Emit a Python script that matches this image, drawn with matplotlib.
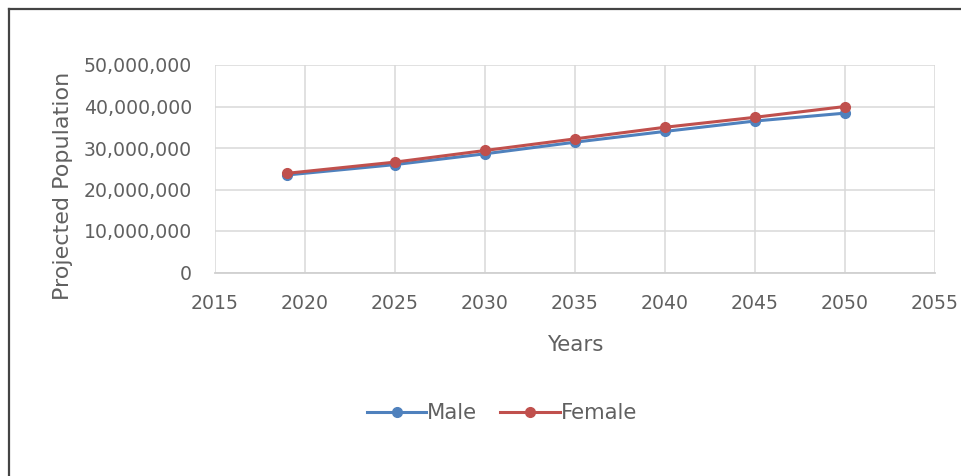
import matplotlib
matplotlib.use("Agg")
import matplotlib.pyplot as plt
from matplotlib.ticker import FuncFormatter
from matplotlib.lines import Line2D

years = [2019, 2025, 2030, 2035, 2040, 2045, 2050]
male = [23.5e6, 26.0e6, 28.6e6, 31.4e6, 34.0e6, 36.5e6, 38.4e6]
female = [23.9e6, 26.6e6, 29.4e6, 32.2e6, 35.0e6, 37.4e6, 40.0e6]
x_ticks = [2015, 2020, 2025, 2030, 2035, 2040, 2045, 2050, 2055]
y_ticks = [0, 10e6, 20e6, 30e6, 40e6, 50e6]

plt.rcParams['font.family'] = ['DejaVu Sans']
txt = '#606060'

W, H = 962, 476
L, R, T, B = 215, 935, 65, 272.5
fig = plt.figure(figsize=(W / 100, H / 100), dpi=100)
ax = fig.add_axes([L / W, 1 - B / H, (R - L) / W, (B - T) / H])

ax.plot(years, male, color='#4F81BD', lw=2.2, marker='o', ms=7, label='Male')
ax.plot(years, female, color='#C0504D', lw=2.2, marker='o', ms=7, label='Female')

ax.set_xlim(2015, 2055)
ax.set_ylim(0, 50e6)
ax.set_xticks(x_ticks)
ax.set_yticks(y_ticks)
ax.yaxis.set_major_formatter(FuncFormatter(lambda v, p: f"{int(v):,}"))
ax.grid(True, color='#d9d9d9', lw=1.1)
ax.set_axisbelow(True)
for s in ['top', 'right', 'left']:
    ax.spines[s].set_visible(False)
ax.spines['bottom'].set_color('#d0d0d0')
ax.spines['bottom'].set_linewidth(1.3)
ax.tick_params(length=0, colors=txt, labelsize=13.6)
ax.tick_params(axis='x', pad=15.5)
ax.tick_params(axis='y', pad=16.5)

ax.set_xlabel('Years', color=txt, fontsize=15.4)
ax.xaxis.set_label_coords(0.5, (B - 345) / (B - T))
ax.xaxis.label.set_verticalalignment('center')

ax.set_ylabel('Projected Population', color=txt, fontsize=16)
ax.yaxis.set_label_coords((63 - L) / (R - L), (B - 186) / (B - T))
ax.yaxis.label.set_verticalalignment('center')
ax.yaxis.label.set_horizontalalignment('center')

leg = fig.legend(loc='center', bbox_to_anchor=(502 / W, 1 - 413 / H), ncol=2, frameon=False,
                 fontsize=15.2, handlelength=2.8, columnspacing=1.1, handletextpad=0.05,
                 borderpad=0, borderaxespad=0)
for t in leg.get_texts():
    t.set_color(txt)

# frame lines (top and left only, as in the reference image)
bx, by = 9 / W, 1 - 9 / H
fig.add_artist(Line2D([bx, 1], [by, by], transform=fig.transFigure, color='#444444', lw=1.6))
fig.add_artist(Line2D([bx, bx], [0, by], transform=fig.transFigure, color='#444444', lw=1.6))

fig.savefig('out.png', dpi=100)
